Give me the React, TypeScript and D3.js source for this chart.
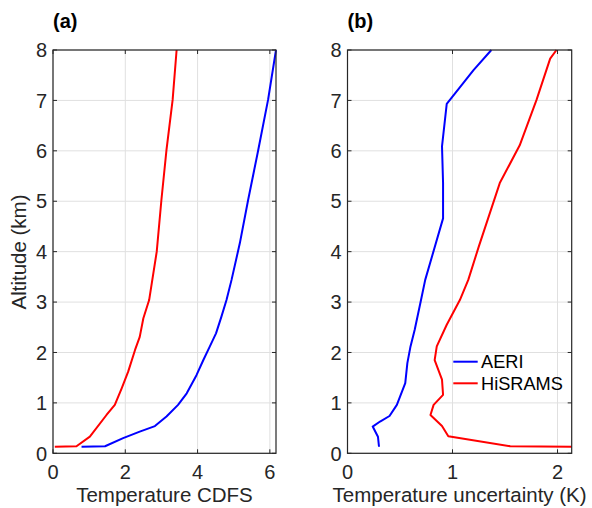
import React from "react";
import * as d3 from "d3";

const yTicks = [0, 1, 2, 3, 4, 5, 6, 7, 8];
const xTicksA = [0, 2, 4, 6];
const xTicksB = [0, 1, 2];

// Panel (a): Temperature CDFS vs altitude
const aRedX = [0.05, 0.65, 1.02, 1.48, 1.71, 1.9, 2.08, 2.27, 2.4, 2.5, 2.66, 2.87, 3.0, 3.14, 3.31, 3.42];
const aRedY = [0.13, 0.14, 0.33, 0.76, 0.96, 1.29, 1.62, 2.05, 2.31, 2.68, 3.04, 4.0, 5.03, 6.02, 7.01, 8.0];
const aBlueX = [0.79, 1.44, 1.94, 2.4, 2.82, 3.14, 3.46, 3.7, 3.97, 4.16, 4.34, 4.51, 4.66, 4.8, 4.94, 5.17, 5.4, 5.68, 5.95, 6.17];
const aBlueY = [0.13, 0.14, 0.3, 0.43, 0.54, 0.73, 0.96, 1.19, 1.55, 1.85, 2.12, 2.38, 2.71, 3.04, 3.44, 4.17, 5.03, 6.02, 7.01, 8.0];

// Panel (b): Temperature uncertainty vs altitude
const bBlueX = [0.3, 0.29, 0.24, 0.31, 0.4, 0.47, 0.55, 0.57, 0.6, 0.64, 0.7, 0.74, 0.91, 0.91, 0.9, 0.945, 1.2, 1.37];
const bBlueY = [0.13, 0.33, 0.53, 0.63, 0.74, 0.96, 1.39, 1.79, 2.12, 2.45, 3.04, 3.44, 4.66, 5.36, 6.09, 6.93, 7.6, 8.0];
const bRedX = [2.135, 1.55, 0.96, 0.9, 0.79, 0.82, 0.91, 0.9, 0.83, 0.85, 0.945, 1.07, 1.15, 1.25, 1.45, 1.64, 1.8, 1.93, 1.99];
const bRedY = [0.13, 0.14, 0.34, 0.54, 0.76, 0.96, 1.16, 1.46, 1.85, 2.12, 2.55, 3.04, 3.44, 4.1, 5.36, 6.11, 7.01, 7.83, 8.0];

const seriesNames = ["AERI", "HiSRAMS"];
const seriesColors = ["#0000ff", "#ff0000"];

const AX = "#262626";
const FONT = "'Liberation Sans', Arial, Helvetica, sans-serif";

type PanelProps = {
  left: number;
  right: number;
  xMax: number;
  xTicks: number[];
  label: string;
  xLabel: string;
  lines: { xs: number[]; ys: number[]; color: string }[];
  children?: React.ReactNode;
};

const TOP = 50;
const BOTTOM = 453.3;

function Panel({ left, right, xMax, xTicks, label, xLabel, lines, children }: PanelProps) {
  const x = d3.scaleLinear().domain([0, xMax]).range([left, right]);
  const y = d3.scaleLinear().domain([0, 8]).range([BOTTOM, TOP]);
  const line = d3
    .line<[number, number]>()
    .x((d) => x(d[0]))
    .y((d) => y(d[1]));
  const tl = 4;
  return (
    <g>
      {xTicks.map((t) => (
        <line key={"gx" + t} x1={x(t)} x2={x(t)} y1={TOP} y2={BOTTOM} stroke="#e0e0e0" strokeWidth={1} />
      ))}
      {yTicks.map((t) => (
        <line key={"gy" + t} x1={left} x2={right} y1={y(t)} y2={y(t)} stroke="#e0e0e0" strokeWidth={1} />
      ))}
      {lines.map((l, i) => (
        <path
          key={i}
          d={line(l.xs.map((v, j) => [v, l.ys[j]] as [number, number])) || ""}
          fill="none"
          stroke={l.color}
          strokeWidth={2}
          strokeLinejoin="round"
        />
      ))}
      <rect x={left} y={TOP} width={right - left} height={BOTTOM - TOP} fill="none" stroke={AX} strokeWidth={1.2} />
      {xTicks.map((t) => (
        <g key={"tx" + t}>
          <line x1={x(t)} x2={x(t)} y1={BOTTOM} y2={BOTTOM - tl} stroke={AX} strokeWidth={1} />
          <line x1={x(t)} x2={x(t)} y1={TOP} y2={TOP + tl} stroke={AX} strokeWidth={1} />
          <text x={x(t)} y={BOTTOM + 25.7} textAnchor="middle" fontSize={20} fill={AX} fontFamily={FONT}>
            {t}
          </text>
        </g>
      ))}
      {yTicks.map((t) => (
        <g key={"ty" + t}>
          <line x1={left} x2={left + tl} y1={y(t)} y2={y(t)} stroke={AX} strokeWidth={1} />
          <line x1={right} x2={right - tl} y1={y(t)} y2={y(t)} stroke={AX} strokeWidth={1} />
          <text x={left - 6} y={y(t) + 7.2} textAnchor="end" fontSize={20} fill={AX} fontFamily={FONT}>
            {t}
          </text>
        </g>
      ))}
      <text x={left} y={27.5} fontSize={20} fontWeight="bold" fill="#000" fontFamily={FONT}>
        {label}
      </text>
      <text x={(left + right) / 2} y={502} textAnchor="middle" fontSize={20.5} fill={AX} fontFamily={FONT}>
        {xLabel}
      </text>
      {children}
    </g>
  );
}

export default function App() {
  return (
    <svg width={592} height={508} style={{ position: "absolute", left: 0, top: 0, background: "#fff" }}>
      <rect width={592} height={508} fill="#fff" />
      <Panel
        left={53}
        right={276}
        xMax={6.17}
        xTicks={xTicksA}
        label="(a)"
        xLabel="Temperature CDFS"
        lines={[
          { xs: aRedX, ys: aRedY, color: seriesColors[1] },
          { xs: aBlueX, ys: aBlueY, color: seriesColors[0] },
        ]}
      />
      <text
        transform="translate(26,252) rotate(-90)"
        textAnchor="middle"
        fontSize={20.5}
        fill={AX}
        fontFamily={FONT}
      >
        Altitude (km)
      </text>
      <Panel
        left={347.5}
        right={571.7}
        xMax={2.135}
        xTicks={xTicksB}
        label="(b)"
        xLabel="Temperature uncertainty (K)"
        lines={[
          { xs: bBlueX, ys: bBlueY, color: seriesColors[0] },
          { xs: bRedX, ys: bRedY, color: seriesColors[1] },
        ]}
      >
        {seriesNames.map((n, i) => (
          <g key={n}>
            <line x1={453.3} x2={477.7} y1={361.7 + i * 21.6} y2={361.7 + i * 21.6} stroke={seriesColors[i]} strokeWidth={2} />
            <text x={481} y={368.3 + i * 21.7} fontSize={18.2} fill="#000" fontFamily={FONT}>
              {n}
            </text>
          </g>
        ))}
      </Panel>
    </svg>
  );
}
